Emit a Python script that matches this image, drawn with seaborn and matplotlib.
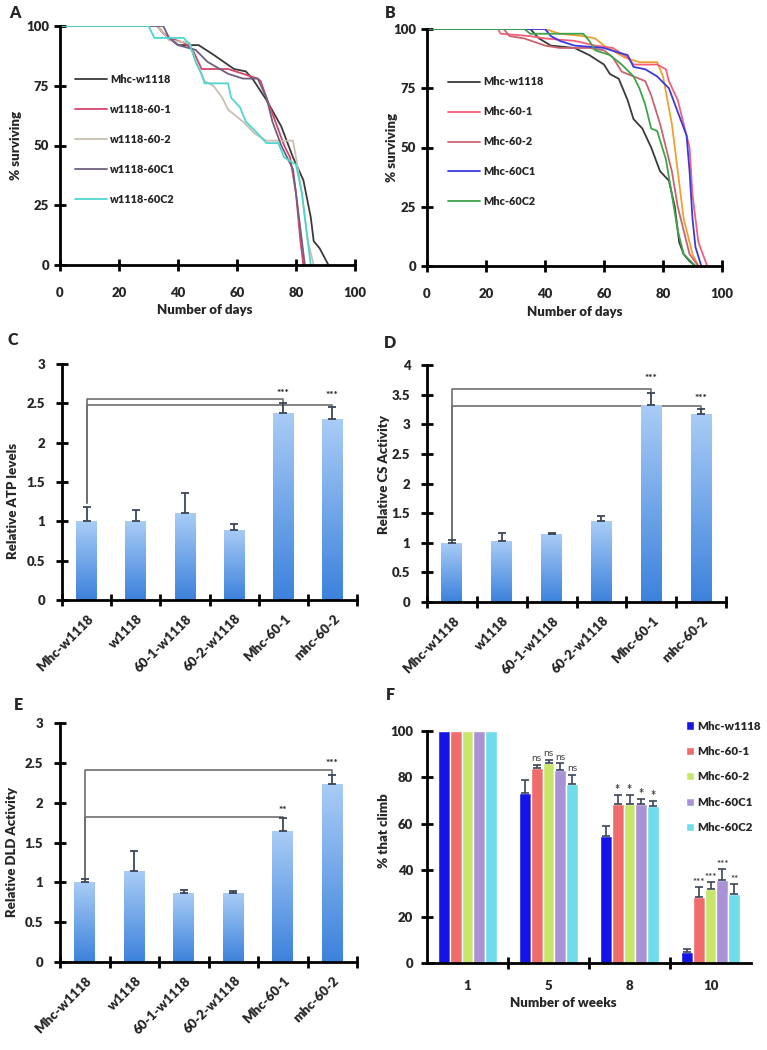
import numpy as np
import pandas as pd
import matplotlib
matplotlib.use("Agg")
import matplotlib.pyplot as plt
import matplotlib.transforms as mtransforms
from matplotlib.colors import to_rgb
import seaborn as sns

# ---------------- DATA ----------------
# Panel A survival (days, % surviving)
A_labels = ["Mhc-w1118", "w1118-60-1", "w1118-60-2", "w1118-60C1", "w1118-60C2"]
A_colors = ["#3a3a3a", "#d6456a", "#c9bfb2", "#6e6080", "#4fd6cf"]
A_days = [
    [0, 33, 35, 37, 40, 47, 52, 59, 63, 65.5, 70, 75, 79, 82.5, 85, 86, 88, 91],
    [0, 33, 35, 37, 42, 45, 48, 57, 62, 67, 68, 70, 73, 76, 78, 80, 81.5, 82.5],
    [0, 33, 35, 37, 44, 46, 49, 52, 55, 57, 62, 66, 70, 79, 80, 82, 84, 86],
    [0, 35, 37, 40, 46, 50, 57, 62, 67, 70, 72, 75, 79, 81, 83],
    [0, 30, 32, 42, 44, 46, 48, 49, 57, 58, 61, 63, 67, 70, 74, 76, 80, 82, 84, 85],
]
A_surv = [
    [100, 100, 97, 95, 92, 92, 88, 82, 81, 77.5, 69, 58, 45, 35.5, 20, 10, 7, 0],
    [100, 100, 97, 95, 93, 90, 82, 82, 80, 78, 77, 70, 60, 50, 45, 30, 10, 0],
    [100, 100, 97, 94, 93, 85, 77, 75, 70, 65, 60, 55, 52, 52, 45, 30, 10, 0],
    [100, 100, 95, 92, 90, 85, 80, 78, 78, 70, 60, 50, 40, 20, 0],
    [100, 100, 95, 95, 92, 85, 80, 76, 76, 70, 66, 60, 55, 51, 51, 45, 42, 30, 10, 0],
]

# Panel B survival
B_labels = ["Mhc-w1118", "Mhc-60-1", "Mhc-60-2", "Mhc-60C1", "Mhc-60C2"]
B_colors = ["#3a3a3a", "#f4607a", "#c8646e", "#3a3ae0", "#3fa34a"]
B_days = [
    [0, 35, 38, 42, 50, 55, 60, 62, 65, 68, 70, 73, 76, 79, 82, 84, 85.5, 87, 89, 91],
    [0, 24, 25, 35, 40, 50, 57, 63, 68, 70, 78, 81, 82, 85, 87, 89, 90, 92, 95],
    [0, 26, 28, 33, 40, 45, 55, 60, 63, 66, 70, 74, 76, 79, 81, 83, 85, 87, 89, 92],
    [0, 40, 42, 45, 50, 60, 65, 68, 70, 74, 78, 82, 85, 88, 89, 90, 91, 93],
    [0, 33, 35, 53, 55, 57, 62, 66, 70, 72, 74, 76, 78, 81, 83, 85, 87, 91],
]
B_surv = [
    [100, 100, 96, 93, 92, 89, 85, 81, 79, 70, 62, 58, 50, 40, 36, 25, 10, 5, 2, 0],
    [100, 100, 98, 97, 96, 95, 93, 92, 88, 85, 85, 83, 78, 70, 60, 50, 30, 10, 0],
    [100, 100, 97, 96, 93, 92, 92, 91, 88, 82, 80, 78, 72, 60, 50, 40, 25, 15, 5, 0],
    [100, 100, 97, 95, 93, 92, 90, 89, 84, 83, 80, 75, 65, 55, 40, 20, 8, 0],
    [100, 100, 98, 98, 95, 91, 89, 85, 80, 75, 68, 58, 57, 45, 30, 15, 5, 0],
]
B_extra_days = [0, 40, 45, 53, 57, 60, 67, 72, 78, 80, 83, 85, 87, 90, 92]
B_extra_surv = [100, 100, 98, 97, 96, 93, 88, 86, 86, 80, 60, 40, 20, 5, 0]
B_extra_color = "#f0a030"

# Panels C-E
genotypes = ["Mhc-w1118", "w1118", "60-1-w1118", "60-2-w1118", "Mhc-60-1", "mhc-60-2"]
atp_mean = [1.0, 1.0, 1.1, 0.89, 2.38, 2.30]
atp_err = [0.18, 0.14, 0.26, 0.08, 0.12, 0.15]
cs_mean = [1.0, 1.03, 1.14, 1.36, 3.32, 3.18]
cs_err = [0.04, 0.13, 0.03, 0.09, 0.21, 0.08]
dld_mean = [1.0, 1.14, 0.86, 0.86, 1.64, 2.23]
dld_err = [0.04, 0.25, 0.04, 0.03, 0.17, 0.12]

# Panel F climbing
weeks = ["1", "5", "8", "10"]
F_labels = ["Mhc-w1118", "Mhc-60-1", "Mhc-60-2", "Mhc-60C1", "Mhc-60C2"]
F_colors = ["#1414e6", "#f06b6b", "#c8e66a", "#a993d6", "#6fdcec"]
F_vals = {
    "Mhc-w1118": [100, 73.3, 54.9, 4.7],
    "Mhc-60-1": [100, 84.2, 68.7, 28.4],
    "Mhc-60-2": [100, 86.4, 68.7, 32.0],
    "Mhc-60C1": [100, 83.0, 68.4, 35.9],
    "Mhc-60C2": [100, 77.3, 67.5, 29.9],
}
F_errs = {
    "Mhc-w1118": [0, 5.7, 4.0, 1.5],
    "Mhc-60-1": [0, 1.0, 3.6, 4.4],
    "Mhc-60-2": [0, 1.0, 3.6, 3.0],
    "Mhc-60C1": [0, 3.0, 2.4, 4.5],
    "Mhc-60C2": [0, 3.7, 2.3, 4.0],
}
F_sig = {
    "Mhc-60-1": ["", "ns", "*", "***"],
    "Mhc-60-2": ["", "ns", "*", "***"],
    "Mhc-60C1": ["", "ns", "*", "***"],
    "Mhc-60C2": ["", "ns", "*", "**"],
}

# ---------------- STYLE ----------------
sns.set_style("ticks")
plt.rcParams["font.family"] = ["Lato", "DejaVu Sans"]
plt.rcParams["font.weight"] = "heavy"
plt.rcParams["axes.labelweight"] = "heavy"

TICK_FS = 9.5
LAB_FS = 9.5
SPINE_W = 2.0
WT = "heavy"

fig = plt.figure(figsize=(7.67, 10.5), dpi=100)
W, H = 767, 1050


def axes_px(left, right, top, bottom):
    return fig.add_axes([left / W, 1 - bottom / H, (right - left) / W, (bottom - top) / H])


def style_axes(ax):
    sns.despine(ax=ax)
    for s in ["left", "bottom"]:
        ax.spines[s].set_linewidth(SPINE_W)
        ax.spines[s].set_color("black")
    ax.tick_params(axis="both", which="both", direction="inout", width=2.0,
                   length=8, color="black", labelsize=TICK_FS)


def bold_ticks(ax):
    for lab in ax.get_xticklabels() + ax.get_yticklabels():
        lab.set_fontweight(WT)


def survival(ax, labels, colors, days, surv, legend_xy, lab_spacing):
    rows = []
    for lab, d, s in zip(labels, days, surv):
        for dd, ss in zip(d, s):
            rows.append({"day": dd, "surv": ss, "line": lab})
    df = pd.DataFrame(rows)
    sns.lineplot(data=df, x="day", y="surv", hue="line", hue_order=labels,
                 palette=colors, estimator=None, sort=False, lw=1.3, ax=ax)
    ax.set_xlim(0, 100)
    ax.set_ylim(0, 100)
    ax.set_xticks(range(0, 101, 20))
    ax.set_yticks(range(0, 101, 25))
    style_axes(ax)
    ax.tick_params(axis="x", pad=12)
    ax.tick_params(axis="y", pad=4)
    bold_ticks(ax)
    ax.set_xlabel("Number of days", fontsize=LAB_FS, fontweight=WT)
    ax.set_ylabel("% surviving", fontsize=LAB_FS, fontweight=WT)
    leg = ax.legend(loc="upper left", bbox_to_anchor=legend_xy, frameon=False,
                    fontsize=7.8, handlelength=3.0, handletextpad=0.25,
                    labelspacing=1.75, borderaxespad=0, borderpad=0)
    for t in leg.get_texts():
        t.set_fontweight(WT)
    return df


# ---------------- PANEL A ----------------
axA = axes_px(60, 355, 26, 265)
survival(axA, A_labels, A_colors, A_days, A_surv, (0.05, 0.80), 1.8)
axA.xaxis.set_label_coords(0.49, -0.165)
axA.yaxis.set_label_coords(-0.13, 0.5)

# ---------------- PANEL B ----------------
axB = axes_px(427, 722, 29, 266)
dfx = pd.DataFrame({"day": B_extra_days, "surv": B_extra_surv})
sns.lineplot(data=dfx, x="day", y="surv", color=B_extra_color, lw=1.3,
             estimator=None, sort=False, ax=axB, legend=False, zorder=1)
survival(axB, B_labels, B_colors, B_days, B_surv, (0.07, 0.80), 1.7)
axB.xaxis.set_label_coords(0.50, -0.17)
axB.yaxis.set_label_coords(-0.10, 0.5)


# ---------------- BAR PANELS ----------------
def gradient_bars(ax, top_c, bot_c):
    top = np.array(to_rgb(top_c))
    bot = np.array(to_rgb(bot_c))
    t = np.linspace(0, 1, 128)[:, None]
    grad = (bot * (1 - t) + top * t)[:, None, :]
    for p in list(ax.patches):
        x0, y0 = p.get_x(), p.get_y()
        w, h = p.get_width(), p.get_height()
        im = ax.imshow(grad, extent=[x0, x0 + w, y0, y0 + h], origin="lower",
                       aspect="auto", zorder=2, interpolation="bilinear")
        im.set_clip_path(p)
        p.set_facecolor("none")
        p.set_edgecolor("none")


def bar_panel(ax, means, errs, ylim, yticks, ylabel, brackets, stars):
    df = pd.DataFrame({"geno": genotypes, "val": means})
    sns.barplot(data=df, x="geno", y="val", order=genotypes, color="#6fa4ea",
                width=0.42, ax=ax)
    gradient_bars(ax, "#a9ccf6", "#3c82dc")
    x = np.arange(len(genotypes))
    ax.errorbar(x, means, yerr=[np.zeros(len(errs)), errs], fmt="none",
                ecolor="#3c4656", elinewidth=1.3, capsize=3.2, capthick=1.3, zorder=3)
    for (k, yh, ylow, yend) in brackets:
        ax.plot([0, 0, k, k], [ylow, yh, yh, yend], color="#6e6e6e", lw=1.2, zorder=1.5)
    for (k, ys, s) in stars:
        ax.text(k, ys, s, ha="center", va="center", fontsize=7, color="#333333")
    ax.set_xlim(-0.5, len(genotypes) - 0.5)
    ax.set_ylim(*ylim)
    ax.set_yticks(yticks)
    ax.set_yticklabels([f"{v:g}" for v in yticks])
    style_axes(ax)
    ax.set_xticks(np.arange(-0.5, len(genotypes)), minor=True)
    ax.tick_params(axis="x", which="major", length=0, pad=12)
    ax.tick_params(axis="y", pad=8)
    offset = mtransforms.ScaledTranslation(5 / 100, 0, fig.dpi_scale_trans)
    for lab in ax.get_xticklabels():
        lab.set_rotation(45)
        lab.set_ha("right")
        lab.set_va("center")
        lab.set_rotation_mode("anchor")
        lab.set_transform(lab.get_transform() + offset)
        lab.set_fontsize(TICK_FS)
    bold_ticks(ax)
    ax.set_xlabel("")
    ax.set_ylabel(ylabel, fontsize=LAB_FS, fontweight=WT)


axC = axes_px(62, 357, 364, 600)
bar_panel(axC, atp_mean, atp_err, (0, 3), [0, 0.5, 1, 1.5, 2, 2.5, 3],
          "Relative ATP levels",
          brackets=[(4, 2.55, 1.23, 2.5), (5, 2.48, 1.23, 2.45)],
          stars=[(4, 2.62, "***"), (5, 2.60, "***")])
axC.yaxis.set_label_coords(-0.145, 0.42)

axD = axes_px(427, 726, 365, 602)
bar_panel(axD, cs_mean, cs_err, (0, 4), [0, 0.5, 1, 1.5, 2, 2.5, 3, 3.5, 4],
          "Relative CS Activity",
          brackets=[(4, 3.6, 1.07, 3.53), (5, 3.3, 1.07, 3.26)],
          stars=[(4, 3.77, "***"), (5, 3.44, "***")])
axD.yaxis.set_label_coords(-0.125, 0.54)

axE = axes_px(60, 357, 723, 962)
bar_panel(axE, dld_mean, dld_err, (0, 3), [0, 0.5, 1, 1.5, 2, 2.5, 3],
          "Relative DLD Activity",
          brackets=[(5, 2.41, 1.06, 2.35), (4, 1.82, 1.06, 1.81)],
          stars=[(5, 2.49, "***"), (4, 1.90, "**")])
axE.yaxis.set_label_coords(-0.14, 0.46)

# ---------------- PANEL F ----------------
axF = axes_px(427, 751, 731, 963)
rowsF = []
for lab in F_labels:
    for wk, v in zip(weeks, F_vals[lab]):
        rowsF.append({"week": wk, "pct": v, "line": lab})
dfF = pd.DataFrame(rowsF)
sns.barplot(data=dfF, x="week", y="pct", hue="line", order=weeks, hue_order=F_labels,
            palette=F_colors, width=0.74, ax=axF, saturation=1)
for j, lab in enumerate(F_labels):
    cont = axF.containers[j]
    xs = [b.get_x() + b.get_width() / 2 for b in cont]
    hs = [b.get_height() for b in cont]
    er = F_errs[lab]
    idx = [i for i in range(len(weeks)) if er[i] > 0]
    axF.errorbar([xs[i] for i in idx], [hs[i] for i in idx],
                 yerr=[[0] * len(idx), [er[i] for i in idx]], fmt="none",
                 ecolor="#3c4656", elinewidth=1.2, capsize=2.6, capthick=1.2, zorder=3)
    if lab in F_sig:
        for i, s in enumerate(F_sig[lab]):
            if not s:
                continue
            if s == "ns":
                fs, fw, dy = 7.5, "normal", 0.8
            elif s == "*":
                fs, fw, dy = 9, "bold", -0.5
            else:
                fs, fw, dy = 7, "bold", 0.0
            axF.text(xs[i], hs[i] + er[i] + dy, s, ha="center", va="bottom",
                     fontsize=fs, color="#444444", fontweight=fw)
axF.set_xlim(-0.5, 3.5)
axF.set_ylim(0, 100)
axF.set_yticks(range(0, 101, 20))
style_axes(axF)
axF.set_xticks(np.arange(0.5, 3.5, 1), minor=True)
axF.tick_params(axis="x", which="major", length=0, pad=12)
axF.tick_params(axis="y", pad=6)
bold_ticks(axF)
axF.set_xlabel("Number of weeks", fontsize=LAB_FS, fontweight=WT)
axF.set_ylabel("% that climb", fontsize=LAB_FS, fontweight=WT)
axF.xaxis.set_label_coords(0.42, -0.145)
axF.yaxis.set_label_coords(-0.115, 0.57)
legF = axF.legend(loc="upper left", bbox_to_anchor=(0.80, 1.045), frameon=False,
                  fontsize=8.3, handlelength=0.7, handleheight=0.7, handletextpad=0.3,
                  labelspacing=1.25, borderaxespad=0, borderpad=0)
for t in legF.get_texts():
    t.set_fontweight(WT)

# ---------------- PANEL LETTERS ----------------
for letter, (px, py) in {"A": (15, 13), "B": (390, 13), "C": (13, 340),
                          "D": (390, 343), "E": (18, 705), "F": (390, 695)}.items():
    fig.text(px / W, 1 - py / H, letter, ha="center", va="center",
             fontsize=11.5, fontweight=WT)

fig.savefig("out.png", dpi=100, facecolor="white")
